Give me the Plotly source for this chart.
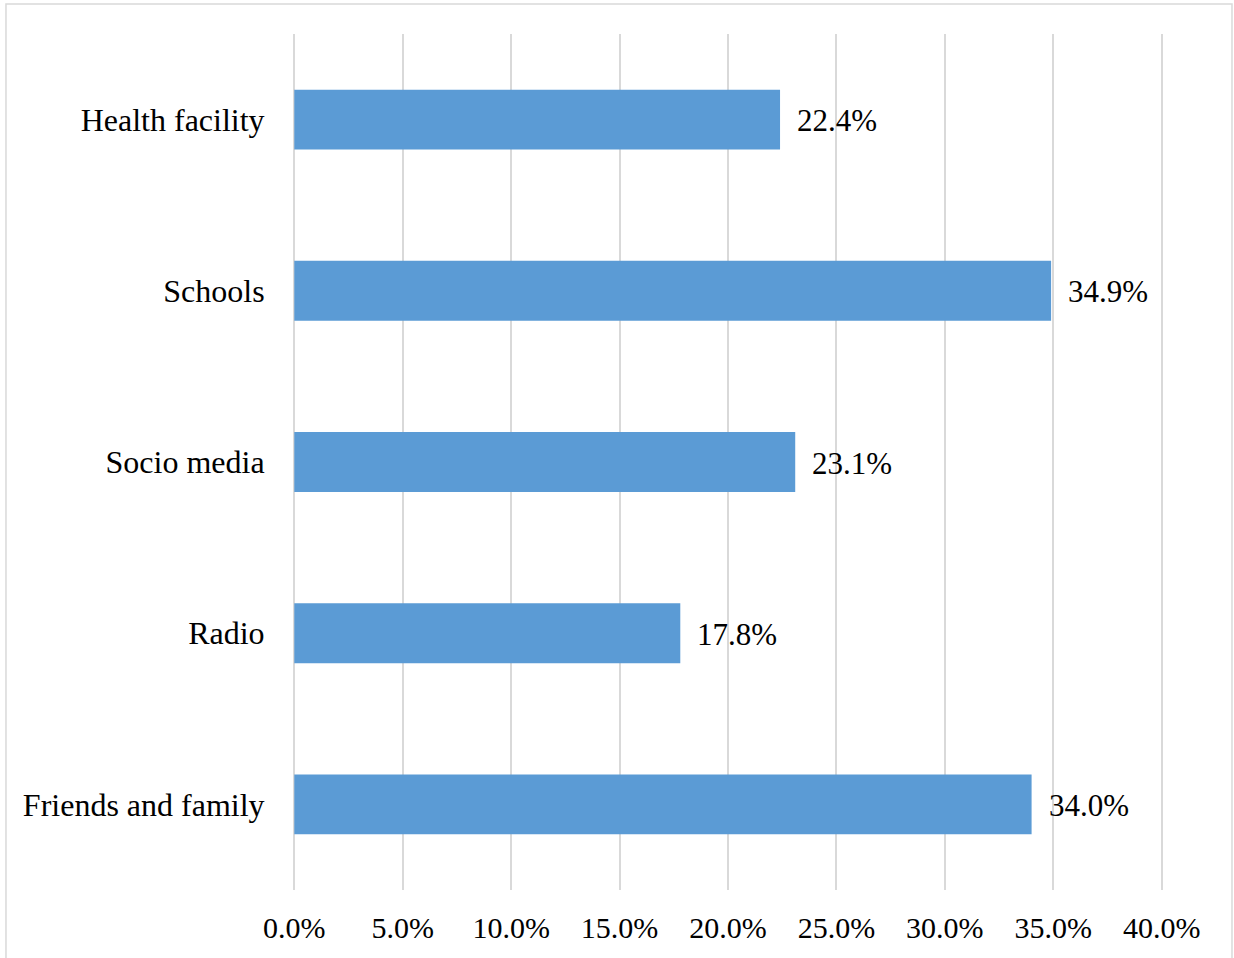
import plotly.graph_objects as go

categories = ["Health facility", "Schools", "Socio media", "Radio", "Friends and family"]
values = [22.4, 34.9, 23.1, 17.8, 34.0]
tick_vals = [0, 5, 10, 15, 20, 25, 30, 35, 40]
tick_text = ["0.0%", "5.0%", "10.0%", "15.0%", "20.0%", "25.0%", "30.0%", "35.0%", "40.0%"]

FONT = "Liberation Serif, Times New Roman, serif"

fig = go.Figure()
fig.add_trace(go.Bar(
    y=categories,
    x=values,
    orientation="h",
    marker=dict(color="#5B9BD5", line=dict(width=0)),
    hoverinfo="skip",
))

for c, v in zip(categories, values):
    fig.add_annotation(
        x=v, y=c, xref="x", yref="y",
        text=f"{v:.1f}%", showarrow=False,
        xanchor="left", yanchor="middle", xshift=15, yshift=-1,
        font=dict(family=FONT, size=31, color="#000000"),
    )

fig.add_shape(
    type="rect", xref="paper", yref="paper",
    x0=-0.3299, x1=1.0793, y0=-0.2, y1=1.0351,
    line=dict(color="#d9d9d9", width=1.5), fillcolor="rgba(0,0,0,0)", layer="above",
)

fig.update_layout(
    width=1234, height=958,
    margin=dict(l=293, r=71, t=34, b=68),
    paper_bgcolor="white", plot_bgcolor="white",
    bargap=0.65,
    showlegend=False,
    font=dict(family=FONT, size=30, color="#000000"),
    xaxis=dict(
        range=[-0.06, 40.06], tickvals=tick_vals, ticktext=tick_text,
        showgrid=True, gridcolor="#d9d9d9", gridwidth=2,
        zeroline=False, showline=False,
        ticks="outside", ticklen=11, tickcolor="rgba(0,0,0,0)",
        tickfont=dict(family=FONT, size=30, color="#000000"),
        fixedrange=True,
    ),
    yaxis=dict(
        categoryorder="array", categoryarray=categories[::-1],
        showgrid=False, zeroline=False, showline=False,
        ticks="outside", ticklen=21, tickcolor="rgba(0,0,0,0)",
        tickfont=dict(family=FONT, size=32, color="#000000"),
        fixedrange=True,
    ),
)

fig.write_html(
    "out.html",
    config={"displayModeBar": False},
    post_script="document.body.style.margin='0px';document.body.style.overflow='hidden';",
)
